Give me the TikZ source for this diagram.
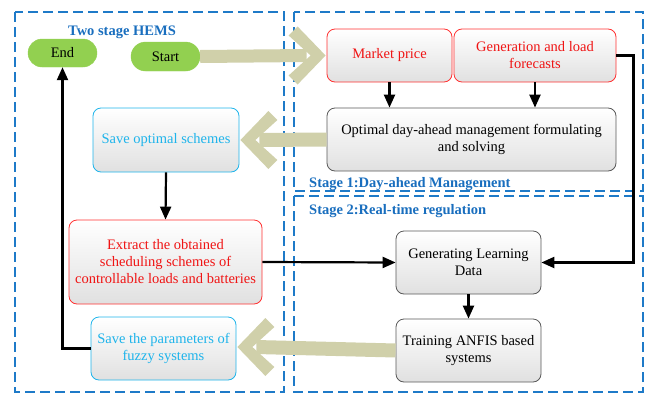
\documentclass[tikz,border=0pt]{standalone}
\usepackage{fontspec}
\setmainfont{Liberation Serif}
\usetikzlibrary{arrows.meta,shapes.misc}
\definecolor{boxblue}{RGB}{30,122,200}
\definecolor{lblblue}{RGB}{25,110,190}
\definecolor{khaki}{RGB}{208,208,170}
\definecolor{nodered}{RGB}{255,50,50}
\definecolor{txtred}{RGB}{240,20,20}
\definecolor{nodecyan}{RGB}{30,180,235}
\definecolor{greenfill}{RGB}{146,208,80}
\tikzset{
  every node/.style={font=\fontsize{14.5}{17}\selectfont},
  region/.style={draw=boxblue,line width=1.6pt,dash pattern=on 10pt off 5pt},
  lbl/.style={text=lblblue,font=\fontsize{14.5}{17}\selectfont\bfseries,inner sep=0pt},
  basebox/.style={rounded corners=8pt,align=center,top color=white,bottom color=black!12,line width=0.8pt,inner sep=2pt},
  graybox/.style={basebox,draw=black!65,text=black},
  redbox/.style={basebox,draw=nodered,text=txtred},
  cyanbox/.style={basebox,draw=nodecyan,text=nodecyan},
  pill/.style={rounded rectangle,fill=greenfill,draw=greenfill,text=black,minimum width=73pt,minimum height=28pt,inner sep=2pt},
  conn/.style={line width=2.2pt,-{Triangle[length=13pt,width=11pt]}},
  plainline/.style={line width=2.2pt},
  fatshaft/.style={draw=khaki,line width=13pt},
}
% fat chevron arrow head, tip at origin pointing right
\tikzset{fathead/.pic={\fill[khaki] (0,0) -- (-28,-29) -- (-37,-20) -- (-15,0) -- (-37,20) -- (-28,29) -- cycle;}}
\begin{document}
\begin{tikzpicture}[x=1pt,y=-1pt]
\useasboundingbox (0,0) rectangle (648,394);
% regions
\draw[region] (15,12) rectangle (284,392);
\draw[region] (294,12) rectangle (643,191);
\draw[region] (294,196) rectangle (643,392);
\node[lbl,anchor=base] (lblhems) at (122,35) {Two stage HEMS};
\node[lbl,anchor=base west] (lbls1) at (309,187) {Stage 1:Day-ahead Management};
\node[lbl,anchor=base west] (lbls2) at (309,214) {Stage 2:Real-time regulation};
% nodes
\node[pill] (end) at (62.5,53) {End};
\node[pill,minimum height=29pt] (start) at (165.5,56.5) {Start};
\node[redbox,minimum width=125pt,minimum height=53pt] (mp) at (389.5,55.5) {Market price};
\node[redbox,minimum width=162pt,minimum height=53pt] (gen) at (535,55.5) {Generation and load\\forecasts};
\node[graybox,minimum width=289pt,minimum height=63pt] (opt) at (471.5,139.5) {Optimal day-ahead management formulating\\and solving};
\node[cyanbox,minimum width=146pt,minimum height=64pt] (sos) at (166,140) {Save optimal schemes};
\node[redbox,minimum width=193pt,minimum height=84pt] (ext) at (165.5,262) {Extract the obtained\\scheduling schemes of\\controllable loads and batteries};
\node[cyanbox,minimum width=145pt,minimum height=63pt] (savep) at (163.5,348.5) {Save the parameters of\\fuzzy systems};
\node[graybox,minimum width=145pt,minimum height=63pt] (gld) at (468.5,262.5) {Generating Learning\\Data};
\node[graybox,minimum width=145pt,minimum height=63pt] (train) at (468.5,350.5) {Training ANFIS based\\systems};
% fat arrows
\draw[fatshaft] (start.east) -- ([xshift=-20pt]mp.west);
\pic at ([xshift=-1pt]mp.west) {fathead};
\draw[fatshaft,line width=14pt] (opt.west) -- ([xshift=20pt]sos.east);
\pic[rotate=180] at ([xshift=1pt]sos.east) {fathead};
\draw[fatshaft,line width=14pt] (train.west) -- ([xshift=20pt,yshift=1.5pt]savep.east);
\pic[rotate=180] at ([xshift=1pt,yshift=1.5pt]savep.east) {fathead};
% connectors
\draw[conn] (mp.south) -- (mp.south |- opt.north);
\draw[conn] (gen.south) -- (gen.south |- opt.north);
\coordinate (cr) at ([xshift=17pt]gen.east);
\draw[conn] (gen.east) -- (cr) |- (gld.east);
\draw[conn] (sos.south) -- (ext.north);
\draw[conn] (ext.east) -- (gld.west);
\draw[conn] (gld.south) -- (train.north);
\draw[conn] (savep.west) -| (end.south);
\end{tikzpicture}
\end{document}
